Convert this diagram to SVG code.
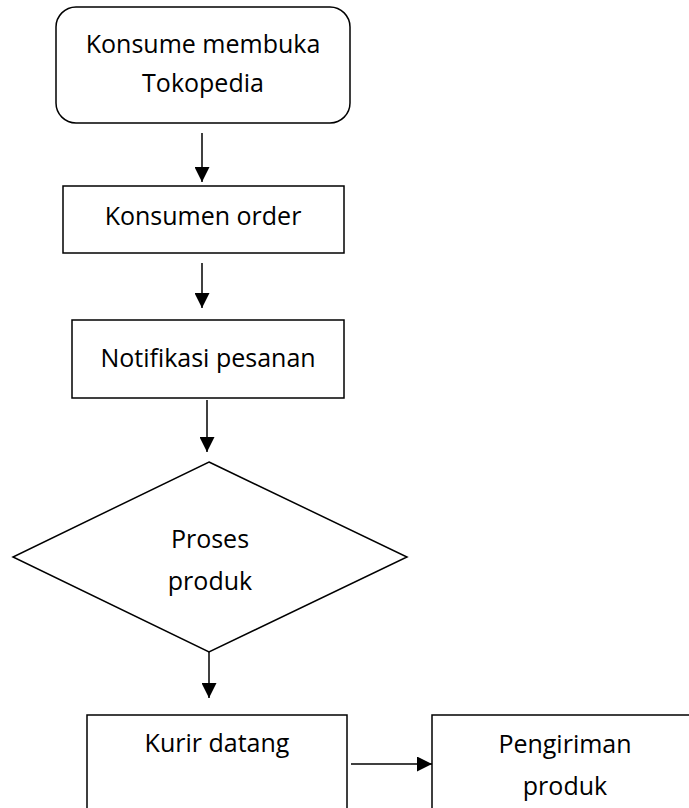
<svg xmlns="http://www.w3.org/2000/svg" width="689" height="808" viewBox="0 0 689 808">
<style>
.shape{fill:#fff;stroke:#000;stroke-width:1.5}
.lbl{font-family:"Open Sans","Noto Sans","DejaVu Sans",sans-serif;font-size:25px;fill:#000;text-anchor:middle}
.conn{stroke:#000;stroke-width:1.5;fill:none}
</style>
<defs>
<marker id="ah" markerUnits="userSpaceOnUse" markerWidth="15" markerHeight="15" refX="15" refY="7.5" orient="auto">
<path d="M0,0 L15,7.5 L0,15 Z" fill="#000"/>
</marker>
</defs>
<rect width="689" height="808" fill="#fff"/>
<g id="n1">
<rect class="shape" x="56" y="7" width="294" height="116" rx="20" ry="20"/>
<text class="lbl" x="203" y="53">Konsume membuka</text>
<text class="lbl" x="203" y="92">Tokopedia</text>
</g>
<g id="n2">
<rect class="shape" x="63" y="186" width="281" height="67"/>
<text class="lbl" x="203" y="225">Konsumen order</text>
</g>
<g id="n3">
<rect class="shape" x="72" y="320" width="272" height="78"/>
<text class="lbl" x="208" y="367">Notifikasi pesanan</text>
</g>
<g id="n4">
<polygon class="shape" points="209,462 407,557 209,652 13,557"/>
<text class="lbl" x="210" y="548">Proses</text>
<text class="lbl" x="210" y="590">produk</text>
</g>
<g id="n5">
<rect class="shape" x="87" y="715" width="260" height="120"/>
<text class="lbl" x="217" y="752">Kurir datang</text>
</g>
<g id="n6">
<rect class="shape" x="432" y="715" width="270" height="120"/>
<text class="lbl" x="565" y="753">Pengiriman</text>
<text class="lbl" x="565" y="795">produk</text>
</g>
<g id="connectors">
<line class="conn" x1="202" y1="133" x2="202" y2="182" marker-end="url(#ah)"/>
<line class="conn" x1="202" y1="263" x2="202" y2="308" marker-end="url(#ah)"/>
<line class="conn" x1="207" y1="400" x2="207" y2="452" marker-end="url(#ah)"/>
<line class="conn" x1="209" y1="652" x2="209" y2="698" marker-end="url(#ah)"/>
<line class="conn" x1="351" y1="764" x2="432" y2="764" marker-end="url(#ah)"/>
</g>
</svg>
